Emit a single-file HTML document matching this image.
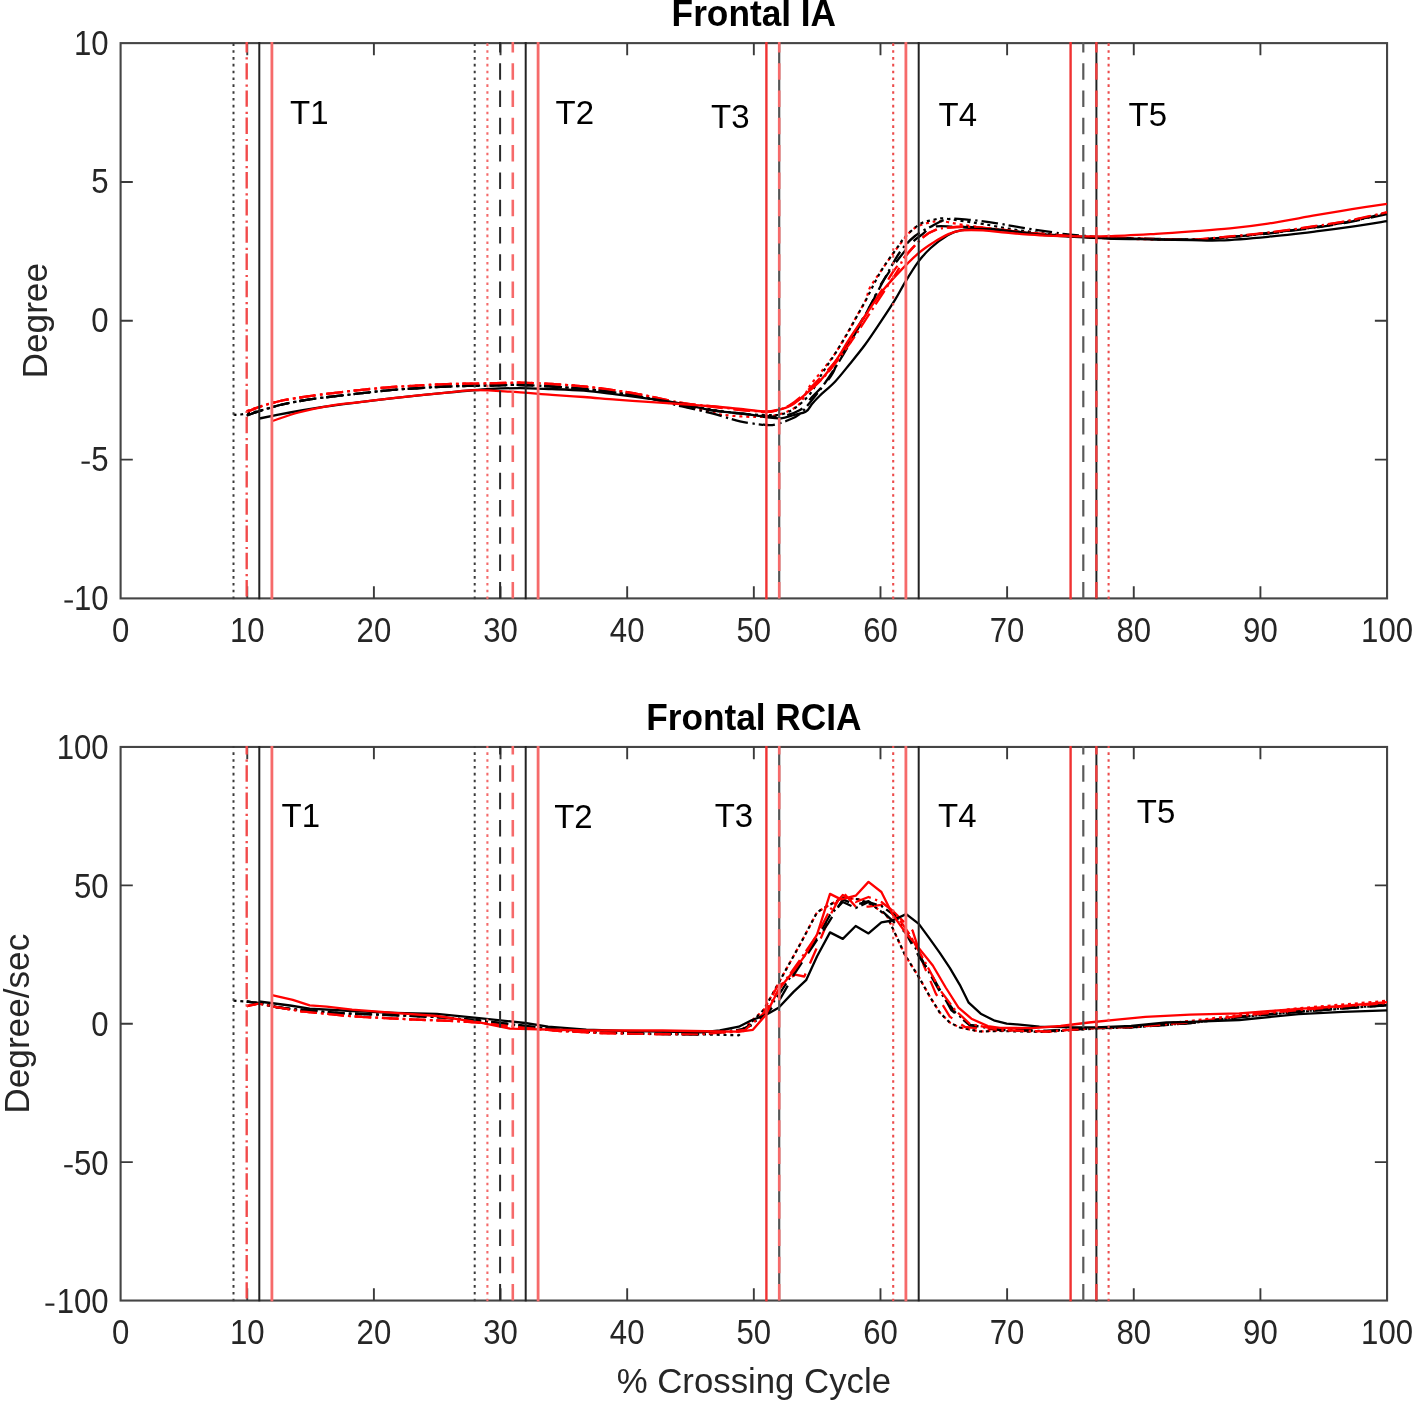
<!DOCTYPE html><html><head><meta charset="utf-8"><style>html,body{margin:0;padding:0;background:#fff;width:1416px;height:1404px;overflow:hidden}svg{display:block;filter:blur(0.45px)} .f{font-family:"Liberation Sans",sans-serif}</style></head><body><svg width="1416" height="1404" viewBox="0 0 1416 1404" style="position:absolute;left:0;top:0">
<rect width="100%" height="100%" fill="#fff"/>
<g stroke="#454545" stroke-width="2.1" fill="none">
<rect x="120.60" y="43.12" width="1266.46" height="555.28"/>
<path d="M247.25 598.40V586.20M247.25 43.12V55.32M373.89 598.40V586.20M373.89 43.12V55.32M500.54 598.40V586.20M500.54 43.12V55.32M627.18 598.40V586.20M627.18 43.12V55.32M753.83 598.40V586.20M753.83 43.12V55.32M880.48 598.40V586.20M880.48 43.12V55.32M1007.12 598.40V586.20M1007.12 43.12V55.32M1133.77 598.40V586.20M1133.77 43.12V55.32M1260.41 598.40V586.20M1260.41 43.12V55.32M120.60 181.94H132.80M1387.06 181.94H1374.86M120.60 320.76H132.80M1387.06 320.76H1374.86M120.60 459.58H132.80M1387.06 459.58H1374.86" stroke="#3a3a3a" stroke-width="1.9"/>
</g>
<g class="f" font-size="34.6" fill="#262626">
<text transform="translate(120.60 642.00) scale(0.9 1)" text-anchor="middle">0</text>
<text transform="translate(247.25 642.00) scale(0.9 1)" text-anchor="middle">10</text>
<text transform="translate(373.89 642.00) scale(0.9 1)" text-anchor="middle">20</text>
<text transform="translate(500.54 642.00) scale(0.9 1)" text-anchor="middle">30</text>
<text transform="translate(627.18 642.00) scale(0.9 1)" text-anchor="middle">40</text>
<text transform="translate(753.83 642.00) scale(0.9 1)" text-anchor="middle">50</text>
<text transform="translate(880.48 642.00) scale(0.9 1)" text-anchor="middle">60</text>
<text transform="translate(1007.12 642.00) scale(0.9 1)" text-anchor="middle">70</text>
<text transform="translate(1133.77 642.00) scale(0.9 1)" text-anchor="middle">80</text>
<text transform="translate(1260.41 642.00) scale(0.9 1)" text-anchor="middle">90</text>
<text transform="translate(1387.06 642.00) scale(0.9 1)" text-anchor="middle">100</text>
<text transform="translate(108.60 54.52) scale(0.9 1)" text-anchor="end">10</text>
<text transform="translate(108.60 193.34) scale(0.9 1)" text-anchor="end">5</text>
<text transform="translate(108.60 332.16) scale(0.9 1)" text-anchor="end">0</text>
<text transform="translate(108.60 470.98) scale(0.9 1)" text-anchor="end">5</text>
<rect x="81.50" y="461.58" width="8.30" height="2.2"/>
<text transform="translate(108.60 609.80) scale(0.9 1)" text-anchor="end">10</text>
<rect x="64.40" y="600.40" width="8.50" height="2.2"/>
</g>
<g stroke="#454545" stroke-width="2.1" fill="none">
<rect x="120.60" y="746.95" width="1266.46" height="553.59"/>
<path d="M247.25 1300.54V1288.34M247.25 746.95V759.15M373.89 1300.54V1288.34M373.89 746.95V759.15M500.54 1300.54V1288.34M500.54 746.95V759.15M627.18 1300.54V1288.34M627.18 746.95V759.15M753.83 1300.54V1288.34M753.83 746.95V759.15M880.48 1300.54V1288.34M880.48 746.95V759.15M1007.12 1300.54V1288.34M1007.12 746.95V759.15M1133.77 1300.54V1288.34M1133.77 746.95V759.15M1260.41 1300.54V1288.34M1260.41 746.95V759.15M120.60 885.35H132.80M1387.06 885.35H1374.86M120.60 1023.75H132.80M1387.06 1023.75H1374.86M120.60 1162.14H132.80M1387.06 1162.14H1374.86" stroke="#3a3a3a" stroke-width="1.9"/>
</g>
<g class="f" font-size="34.6" fill="#262626">
<text transform="translate(120.60 1344.14) scale(0.9 1)" text-anchor="middle">0</text>
<text transform="translate(247.25 1344.14) scale(0.9 1)" text-anchor="middle">10</text>
<text transform="translate(373.89 1344.14) scale(0.9 1)" text-anchor="middle">20</text>
<text transform="translate(500.54 1344.14) scale(0.9 1)" text-anchor="middle">30</text>
<text transform="translate(627.18 1344.14) scale(0.9 1)" text-anchor="middle">40</text>
<text transform="translate(753.83 1344.14) scale(0.9 1)" text-anchor="middle">50</text>
<text transform="translate(880.48 1344.14) scale(0.9 1)" text-anchor="middle">60</text>
<text transform="translate(1007.12 1344.14) scale(0.9 1)" text-anchor="middle">70</text>
<text transform="translate(1133.77 1344.14) scale(0.9 1)" text-anchor="middle">80</text>
<text transform="translate(1260.41 1344.14) scale(0.9 1)" text-anchor="middle">90</text>
<text transform="translate(1387.06 1344.14) scale(0.9 1)" text-anchor="middle">100</text>
<text transform="translate(108.60 759.35) scale(0.9 1)" text-anchor="end">100</text>
<text transform="translate(108.60 897.75) scale(0.9 1)" text-anchor="end">50</text>
<text transform="translate(108.60 1036.14) scale(0.9 1)" text-anchor="end">0</text>
<text transform="translate(108.60 1174.54) scale(0.9 1)" text-anchor="end">50</text>
<rect x="64.20" y="1165.14" width="8.50" height="2.2"/>
<text transform="translate(108.60 1312.94) scale(0.9 1)" text-anchor="end">100</text>
<rect x="45.40" y="1303.54" width="9.00" height="2.2"/>
</g>
<defs><clipPath id="ct"><rect x="119.6" y="42.0" width="1268.46" height="557.5"/></clipPath><clipPath id="cb"><rect x="119.6" y="745.85" width="1268.46" height="555.8"/></clipPath></defs>
<g clip-path="url(#ct)">
<path d="M246.7 411.0C249.3 410.1 257.1 407.5 262.6 405.8C268.2 404.1 273.8 402.4 280.0 401.0C286.2 399.6 293.3 398.6 300.0 397.5C306.7 396.4 309.7 396.0 320.0 394.7C330.3 393.4 350.7 391.0 362.0 389.8C373.3 388.6 379.5 388.1 388.0 387.4C396.5 386.7 403.2 386.4 413.0 385.8C422.8 385.2 434.2 384.5 447.0 384.1C459.8 383.7 477.8 383.6 490.0 383.4C502.2 383.2 509.7 382.6 520.0 382.7C530.3 382.8 541.3 383.4 552.0 384.0C562.7 384.6 573.3 385.4 584.0 386.5C594.7 387.6 605.3 388.9 616.0 390.5C626.7 392.1 637.0 393.4 648.0 396.0C659.0 398.6 671.0 403.3 682.0 406.0C693.0 408.7 707.0 410.5 714.0 412.0C721.0 413.5 717.0 414.2 724.0 415.0C731.0 415.8 747.2 417.0 756.0 417.0C764.8 417.0 770.0 416.9 777.0 415.0C784.0 413.1 792.5 410.3 798.0 405.4C803.5 400.5 805.9 391.6 810.0 385.7C814.1 379.8 818.8 375.0 822.9 369.7C827.0 364.4 831.1 359.4 834.9 353.8C838.7 348.2 842.3 341.8 845.8 335.8C849.3 329.8 852.5 323.9 855.8 317.9C859.1 311.9 863.4 304.9 865.8 299.9C868.2 294.8 867.0 293.2 870.0 287.6C873.0 282.0 879.4 273.2 884.1 266.4C888.8 259.6 893.5 252.7 898.2 246.6C902.9 240.5 907.7 233.6 912.4 229.7C917.1 225.8 921.8 224.7 926.5 223.3C931.2 221.9 934.7 221.0 940.6 221.2C946.5 221.4 953.6 223.5 961.8 224.7C970.0 225.9 980.3 227.3 990.0 228.5C999.7 229.7 1006.7 230.8 1020.0 232.0C1033.3 233.2 1055.3 234.9 1070.0 236.0C1084.7 237.1 1093.7 237.7 1108.0 238.3C1122.3 238.9 1142.0 239.1 1156.0 239.4C1170.0 239.7 1181.3 240.1 1192.0 239.9C1202.7 239.7 1207.3 239.2 1220.0 238.0C1232.7 236.8 1252.0 234.8 1268.0 233.0C1284.0 231.2 1302.0 229.0 1316.0 227.0C1330.0 225.0 1340.2 223.3 1352.0 221.0C1363.8 218.7 1381.2 214.3 1387.0 213.0" fill="none" stroke="#f00" stroke-width="2.2" stroke-dasharray="3 3.83" stroke-linejoin="round"/>
<path d="M233.6 414.6C234.8 414.6 235.9 415.3 240.7 414.5C245.5 413.7 256.1 411.6 262.6 410.0C269.2 408.4 273.8 406.5 280.0 405.0C286.2 403.5 293.3 402.2 300.0 401.0C306.7 399.8 309.7 399.3 320.0 398.0C330.3 396.7 350.7 394.5 362.0 393.2C373.3 391.9 379.5 391.1 388.0 390.3C396.5 389.5 403.2 389.1 413.0 388.5C422.8 387.9 434.2 387.0 447.0 386.5C459.8 386.0 477.8 385.8 490.0 385.5C502.2 385.2 509.7 384.8 520.0 385.0C530.3 385.2 541.3 385.8 552.0 386.5C562.7 387.2 573.3 388.0 584.0 389.0C594.7 390.0 605.3 391.0 616.0 392.5C626.7 394.0 637.0 396.1 648.0 398.0C659.0 399.9 671.0 402.0 682.0 404.0C693.0 406.0 703.5 408.3 714.0 410.0C724.5 411.7 736.3 413.2 745.0 414.0C753.7 414.8 760.0 414.9 766.0 415.0C772.0 415.1 776.2 415.7 781.0 414.5C785.8 413.3 790.2 411.4 795.0 408.0C799.8 404.6 805.3 400.0 810.0 394.0C814.7 388.0 818.8 378.7 823.0 372.0C827.2 365.3 831.2 359.8 835.0 353.8C838.8 347.8 842.5 341.8 846.0 335.8C849.5 329.8 852.7 323.9 856.0 317.9C859.3 311.9 862.8 305.9 866.0 299.9C869.2 293.9 872.0 287.6 875.0 282.0C878.0 276.4 880.2 272.3 884.0 266.4C887.8 260.5 894.5 251.5 898.0 246.6C901.5 241.7 901.6 240.5 905.3 236.7C909.0 232.9 915.3 226.8 920.0 224.0C924.7 221.2 929.7 220.7 933.6 219.8C937.5 218.9 938.7 218.2 943.4 218.4C948.1 218.6 955.4 220.1 962.0 221.0C968.6 221.9 974.8 222.7 983.0 224.0C991.2 225.3 1001.5 227.5 1011.0 229.0C1020.5 230.5 1030.2 231.8 1040.0 233.0C1049.8 234.2 1058.7 235.2 1070.0 236.0C1081.3 236.8 1093.7 237.5 1108.0 238.0C1122.3 238.5 1142.0 238.9 1156.0 239.2C1170.0 239.5 1181.3 240.0 1192.0 239.8C1202.7 239.6 1207.3 239.1 1220.0 238.0C1232.7 236.9 1252.0 235.0 1268.0 233.2C1284.0 231.4 1302.0 229.0 1316.0 227.0C1330.0 225.0 1340.2 223.3 1352.0 221.0C1363.8 218.7 1381.2 214.3 1387.0 213.0" fill="none" stroke="#000" stroke-width="2.2" stroke-dasharray="3 3.83" stroke-linejoin="round"/>
<path d="M246.7 411.8C249.3 410.8 257.1 407.6 262.6 405.8C268.2 404.0 273.8 402.4 280.0 401.0C286.2 399.6 293.3 398.6 300.0 397.5C306.7 396.4 309.7 396.0 320.0 394.7C330.3 393.4 350.7 391.0 362.0 389.8C373.3 388.6 379.5 388.1 388.0 387.4C396.5 386.7 403.2 386.4 413.0 385.8C422.8 385.2 434.2 384.5 447.0 384.1C459.8 383.7 477.8 383.6 490.0 383.4C502.2 383.2 509.7 382.6 520.0 382.7C530.3 382.8 541.3 383.4 552.0 384.0C562.7 384.6 573.3 385.4 584.0 386.5C594.7 387.6 605.3 388.9 616.0 390.5C626.7 392.1 637.0 393.9 648.0 396.0C659.0 398.1 671.0 401.2 682.0 403.0C693.0 404.8 703.5 405.8 714.0 407.0C724.5 408.2 736.3 409.7 745.0 410.5C753.7 411.3 760.7 412.0 766.0 412.0C771.3 412.0 773.0 411.7 777.0 410.5C781.0 409.3 785.3 407.9 790.0 405.0C794.7 402.1 800.0 397.5 805.0 393.0C810.0 388.5 815.0 383.2 820.0 378.0C825.0 372.8 830.0 368.3 835.0 362.0C840.0 355.7 845.0 347.7 850.0 340.0C855.0 332.3 860.0 323.8 865.0 316.0C870.0 308.2 875.3 300.3 880.0 293.0C884.7 285.7 888.8 278.1 893.0 272.0C897.2 265.9 900.2 262.4 905.3 256.5C910.4 250.6 918.5 241.2 923.7 236.7C928.9 232.2 932.2 231.2 936.4 229.7C940.6 228.2 943.7 228.0 949.1 227.5C954.5 227.0 960.9 226.6 968.9 226.8C976.9 227.1 987.7 228.1 997.1 229.0C1006.5 229.9 1013.3 231.3 1025.4 232.5C1037.6 233.7 1056.2 235.1 1070.0 236.0C1083.8 236.9 1093.7 237.5 1108.0 238.0C1122.3 238.5 1142.0 238.7 1156.0 239.0C1170.0 239.3 1181.3 239.8 1192.0 239.6C1202.7 239.3 1207.3 238.6 1220.0 237.5C1232.7 236.4 1252.0 234.7 1268.0 232.8C1284.0 230.9 1302.0 228.3 1316.0 226.2C1330.0 224.1 1340.2 222.5 1352.0 220.2C1363.8 217.9 1381.2 213.8 1387.0 212.5" fill="none" stroke="#f00" stroke-width="2.3" stroke-dasharray="16.5 10.8" stroke-linejoin="round"/>
<path d="M246.7 415.5C249.3 414.6 257.1 411.8 262.6 410.0C268.2 408.2 273.8 406.5 280.0 405.0C286.2 403.5 293.3 402.2 300.0 401.0C306.7 399.8 309.7 399.3 320.0 398.0C330.3 396.7 350.7 394.5 362.0 393.2C373.3 391.9 379.5 391.1 388.0 390.3C396.5 389.5 403.2 389.1 413.0 388.5C422.8 387.9 434.2 387.0 447.0 386.5C459.8 386.0 477.8 385.8 490.0 385.5C502.2 385.2 509.7 384.8 520.0 385.0C530.3 385.2 541.3 385.8 552.0 386.5C562.7 387.2 573.3 388.0 584.0 389.0C594.7 390.0 605.3 391.0 616.0 392.5C626.7 394.0 637.0 395.9 648.0 398.0C659.0 400.1 671.0 402.9 682.0 405.0C693.0 407.1 703.5 409.0 714.0 410.5C724.5 412.0 736.3 413.1 745.0 414.0C753.7 414.9 760.0 415.6 766.0 416.0C772.0 416.4 775.3 417.5 781.0 416.5C786.7 415.5 794.8 413.2 800.0 410.0C805.2 406.8 807.8 401.4 812.0 397.0C816.2 392.6 821.5 387.8 825.0 383.7C828.5 379.6 830.5 377.2 833.0 372.7C835.5 368.2 836.5 363.3 840.0 356.8C843.5 350.3 849.7 341.1 854.0 333.8C858.3 326.5 862.7 318.7 866.0 312.9C869.3 307.1 872.0 303.0 874.0 299.0C876.0 295.0 874.7 294.7 878.0 289.0C881.3 283.3 888.5 272.5 894.0 265.0C899.5 257.5 906.5 248.8 911.0 243.8C915.5 238.9 917.2 238.1 921.0 235.3C924.8 232.5 928.3 228.2 934.0 226.8C939.7 225.4 946.8 226.6 955.0 226.8C963.2 227.0 973.7 227.3 983.0 228.0C992.3 228.7 1001.5 230.0 1011.0 231.0C1020.5 232.0 1030.2 233.2 1040.0 234.0C1049.8 234.8 1058.7 235.3 1070.0 236.0C1081.3 236.7 1093.7 237.5 1108.0 238.0C1122.3 238.5 1142.0 238.9 1156.0 239.2C1170.0 239.5 1181.3 240.0 1192.0 239.8C1202.7 239.6 1207.3 239.1 1220.0 238.0C1232.7 236.9 1252.0 235.2 1268.0 233.5C1284.0 231.8 1302.0 229.5 1316.0 227.5C1330.0 225.5 1340.2 223.8 1352.0 221.5C1363.8 219.2 1381.2 215.2 1387.0 214.0" fill="none" stroke="#000" stroke-width="2.3" stroke-dasharray="16.5 10.8" stroke-linejoin="round"/>
<path d="M246.7 415.5C249.3 414.6 257.1 411.8 262.6 410.0C268.2 408.2 273.8 406.5 280.0 405.0C286.2 403.5 293.3 402.2 300.0 401.0C306.7 399.8 309.7 399.3 320.0 398.0C330.3 396.7 350.7 394.5 362.0 393.2C373.3 391.9 379.5 391.1 388.0 390.3C396.5 389.5 403.2 389.1 413.0 388.5C422.8 387.9 434.2 387.0 447.0 386.5C459.8 386.0 477.8 385.8 490.0 385.5C502.2 385.2 509.7 384.8 520.0 385.0C530.3 385.2 541.3 385.8 552.0 386.5C562.7 387.2 573.3 388.0 584.0 389.0C594.7 390.0 605.3 391.0 616.0 392.5C626.7 394.0 637.0 395.7 648.0 398.0C659.0 400.3 671.0 403.9 682.0 406.5C693.0 409.1 704.3 411.4 714.0 413.9C723.7 416.4 731.2 419.4 740.0 421.3C748.8 423.2 760.3 424.6 766.5 425.0C772.7 425.4 773.4 424.8 777.0 424.0C780.6 423.2 784.2 422.0 788.0 420.3C791.8 418.6 796.0 417.3 800.0 413.9C804.0 410.5 807.8 405.1 812.0 400.0C816.2 394.9 820.3 389.7 825.0 383.0C829.7 376.3 835.0 368.2 840.0 360.0C845.0 351.8 850.0 343.0 855.0 334.0C860.0 325.0 865.0 315.3 870.0 306.0C875.0 296.7 880.0 287.0 885.0 278.0C890.0 269.0 895.0 259.0 900.0 252.0C905.0 245.0 909.7 240.3 915.0 236.0C920.3 231.7 926.5 228.9 932.0 226.1C937.5 223.3 941.5 220.1 947.7 219.1C953.9 218.1 960.8 219.1 969.0 219.8C977.2 220.5 987.7 221.9 997.0 223.3C1006.3 224.7 1015.5 226.7 1025.0 228.2C1034.5 229.7 1046.5 231.4 1054.0 232.5C1061.5 233.6 1061.0 233.8 1070.0 234.6C1079.0 235.4 1093.7 236.8 1108.0 237.5C1122.3 238.2 1142.0 238.5 1156.0 238.8C1170.0 239.1 1181.3 239.6 1192.0 239.5C1202.7 239.4 1207.3 239.1 1220.0 238.0C1232.7 236.9 1252.0 234.8 1268.0 233.0C1284.0 231.2 1302.0 229.0 1316.0 227.0C1330.0 225.0 1340.2 223.3 1352.0 221.0C1363.8 218.7 1381.2 214.3 1387.0 213.0" fill="none" stroke="#000" stroke-width="2.3" stroke-dasharray="16.5 4.6 2.3 3.9" stroke-linejoin="round"/>
<path d="M246.7 411.8C249.3 410.8 257.1 407.6 262.6 405.8C268.2 404.0 273.8 402.4 280.0 401.0C286.2 399.6 293.3 398.6 300.0 397.5C306.7 396.4 309.7 396.0 320.0 394.7C330.3 393.4 350.7 391.0 362.0 389.8C373.3 388.6 379.5 388.1 388.0 387.4C396.5 386.7 403.2 386.4 413.0 385.8C422.8 385.2 434.2 384.5 447.0 384.1C459.8 383.7 477.8 383.6 490.0 383.4C502.2 383.2 509.7 382.6 520.0 382.7C530.3 382.8 541.3 383.4 552.0 384.0C562.7 384.6 573.3 385.4 584.0 386.5C594.7 387.6 605.3 388.9 616.0 390.5C626.7 392.1 637.0 393.9 648.0 396.0C659.0 398.1 671.0 401.1 682.0 402.8C693.0 404.6 703.5 405.3 714.0 406.5C724.5 407.7 736.3 409.3 745.0 410.2C753.7 411.1 760.7 411.8 766.0 411.8C771.3 411.8 773.3 411.1 777.0 410.2C780.7 409.3 784.2 408.4 788.0 406.5C791.8 404.6 796.3 401.9 800.0 399.1C803.7 396.4 805.8 393.9 810.0 390.0C814.2 386.1 820.0 381.5 825.0 376.0C830.0 370.5 835.0 363.7 840.0 357.0C845.0 350.3 850.0 343.3 855.0 336.0C860.0 328.7 865.0 320.7 870.0 313.0C875.0 305.3 880.3 297.2 885.0 290.0C889.7 282.8 894.7 275.6 898.0 270.0C901.3 264.4 900.7 262.1 905.0 256.5C909.3 250.9 918.8 241.2 924.0 236.7C929.2 232.2 931.8 231.2 936.0 229.7C940.2 228.2 943.5 228.0 949.0 227.5C954.5 227.0 961.0 226.6 969.0 226.8C977.0 227.1 987.7 228.1 997.0 229.0C1006.3 229.9 1012.8 231.3 1025.0 232.5C1037.2 233.7 1056.2 235.1 1070.0 236.0C1083.8 236.9 1093.7 237.5 1108.0 238.0C1122.3 238.5 1142.0 238.9 1156.0 239.2C1170.0 239.5 1181.3 240.1 1192.0 239.8C1202.7 239.5 1207.3 238.6 1220.0 237.4C1232.7 236.2 1252.0 234.5 1268.0 232.6C1284.0 230.7 1302.0 228.1 1316.0 226.0C1330.0 223.9 1340.2 222.3 1352.0 220.0C1363.8 217.7 1381.2 213.5 1387.0 212.2" fill="none" stroke="#f00" stroke-width="2.3" stroke-dasharray="16.5 4.6 2.3 3.9" stroke-linejoin="round"/>
<path d="M259.4 418.5C264.5 417.5 279.9 414.4 290.0 412.5C300.1 410.6 308.0 409.2 320.0 407.4C332.0 405.6 347.8 403.6 362.0 401.8C376.2 400.0 390.8 398.3 405.0 396.8C419.2 395.3 432.8 393.9 447.0 392.6C461.2 391.3 477.8 389.8 490.0 389.0C502.2 388.2 509.7 388.1 520.0 388.1C530.3 388.1 541.3 388.7 552.0 389.1C562.7 389.5 573.3 389.8 584.0 390.7C594.7 391.6 605.3 393.1 616.0 394.4C626.7 395.7 637.3 397.1 648.0 398.6C658.7 400.1 669.0 401.5 680.0 403.5C691.0 405.5 703.2 409.0 714.0 410.7C724.8 412.4 736.3 412.8 745.0 413.9C753.7 415.0 760.0 416.4 766.0 417.1C772.0 417.8 776.3 418.7 781.0 418.3C785.7 417.9 789.8 416.1 794.0 415.0C798.2 413.9 803.0 413.3 806.0 411.5C809.0 409.7 809.7 406.7 812.0 404.0C814.3 401.3 816.2 399.2 820.0 395.5C823.8 391.8 830.0 387.0 835.0 381.7C840.0 376.4 845.0 369.8 850.0 363.7C855.0 357.6 860.0 351.6 865.0 344.8C870.0 338.0 875.0 330.4 880.0 322.9C885.0 315.4 890.8 306.7 895.0 299.9C899.2 293.1 901.5 288.2 905.3 281.9C909.1 275.6 913.8 267.8 918.0 262.1C922.2 256.5 925.8 252.5 930.7 248.0C935.7 243.5 942.8 238.2 947.7 235.3C952.7 232.4 954.5 231.5 960.4 230.4C966.3 229.3 974.6 228.9 983.0 229.0C991.4 229.1 1001.5 230.2 1011.0 231.1C1020.5 232.0 1030.2 233.7 1040.0 234.6C1049.8 235.5 1058.7 236.0 1070.0 236.7C1081.3 237.3 1093.7 238.0 1108.0 238.5C1122.3 239.0 1142.0 239.2 1156.0 239.5C1170.0 239.8 1181.3 239.8 1192.0 240.0C1202.7 240.2 1207.3 240.9 1220.0 240.4C1232.7 239.9 1252.0 238.3 1268.0 236.8C1284.0 235.3 1302.0 233.1 1316.0 231.4C1330.0 229.7 1340.2 228.3 1352.0 226.6C1363.8 224.9 1381.2 222.1 1387.0 221.2" fill="none" stroke="#000" stroke-width="2.3" stroke-linejoin="round"/>
<path d="M272.1 421.0C276.5 419.6 289.3 415.0 298.6 412.5C307.9 410.0 317.4 407.9 328.0 406.1C338.6 404.3 349.2 403.4 362.0 401.8C374.8 400.2 390.8 398.3 405.0 396.8C419.2 395.3 435.3 393.7 447.0 392.6C458.7 391.5 464.5 390.4 475.0 390.2C485.5 390.0 497.2 390.9 510.0 391.7C522.8 392.5 539.7 394.0 552.0 394.9C564.3 395.8 573.3 396.2 584.0 397.0C594.7 397.8 605.3 398.9 616.0 399.7C626.7 400.5 637.3 401.1 648.0 401.8C658.7 402.5 669.0 403.2 680.0 404.0C691.0 404.8 703.2 405.6 714.0 406.5C724.8 407.4 736.5 408.7 745.0 409.5C753.5 410.3 759.5 411.4 765.0 411.5C770.5 411.6 773.7 410.8 778.0 409.8C782.3 408.8 786.3 408.3 791.0 405.6C795.7 402.9 801.2 397.8 806.0 393.7C810.8 389.6 815.2 386.3 820.0 381.0C824.8 375.7 830.0 369.2 835.0 362.0C840.0 354.8 845.0 345.7 850.0 338.0C855.0 330.3 860.0 323.3 865.0 316.0C870.0 308.7 874.5 301.1 880.0 294.0C885.5 286.9 891.7 280.1 898.0 273.4C904.3 266.7 912.1 258.9 918.0 253.7C923.9 248.5 928.4 245.7 933.6 242.4C938.8 239.1 944.3 235.9 949.0 233.9C953.7 231.9 956.3 231.0 962.0 230.4C967.7 229.8 974.8 229.9 983.0 230.4C991.2 230.9 1001.5 232.4 1011.0 233.2C1020.5 234.0 1030.2 234.8 1040.0 235.3C1049.8 235.8 1058.7 236.0 1070.0 236.2C1081.3 236.3 1093.7 236.6 1108.0 236.2C1122.3 235.8 1142.0 234.6 1156.0 233.8C1170.0 233.0 1179.7 232.3 1192.0 231.4C1204.3 230.5 1217.3 229.7 1230.0 228.4C1242.7 227.1 1253.7 225.8 1268.0 223.6C1282.3 221.4 1302.0 217.6 1316.0 215.2C1330.0 212.8 1340.2 211.1 1352.0 209.2C1363.8 207.3 1381.2 204.7 1387.0 203.8" fill="none" stroke="#f00" stroke-width="2.3" stroke-linejoin="round"/>
<path d="M233.50 599.45V42.07" stroke="#3a3a3a" stroke-width="2.0" stroke-dasharray="2.6 4.23" stroke-dashoffset="-0.25"/>
<path d="M246.70 599.45V42.07" stroke="#f24a4a" stroke-width="2.4" stroke-dasharray="16.4 3.7 2.2 4.9" stroke-dashoffset="-3.05"/>
<path d="M259.30 599.45V42.07" stroke="#222" stroke-width="2.0"/>
<path d="M271.90 599.45V42.07" stroke="#f66a6a" stroke-width="2.8"/>
<path d="M474.70 599.45V42.07" stroke="#3a3a3a" stroke-width="2.0" stroke-dasharray="2.6 4.23" stroke-dashoffset="-0.25"/>
<path d="M487.40 599.45V42.07" stroke="#f46a6a" stroke-width="2.1" stroke-dasharray="2.6 4.23" stroke-dashoffset="-0.25"/>
<path d="M500.10 599.45V42.07" stroke="#2a2a2a" stroke-width="2.0" stroke-dasharray="16.5 10.8" stroke-dashoffset="-1.05"/>
<path d="M512.80 599.45V42.07" stroke="#f66a6a" stroke-width="2.6" stroke-dasharray="16.5 10.8" stroke-dashoffset="-1.05"/>
<path d="M525.70 599.45V42.07" stroke="#222" stroke-width="2.0"/>
<path d="M538.10 599.45V42.07" stroke="#f66a6a" stroke-width="2.8"/>
<path d="M766.40 599.45V42.07" stroke="#f03232" stroke-width="2.4"/>
<path d="M779.20 599.45V42.07" stroke="#555" stroke-width="2.2"/>
<path d="M779.20 599.45V42.07" stroke="#f66a6a" stroke-width="2.6" stroke-dasharray="16.5 10.8" stroke-dashoffset="-1.05"/>
<path d="M893.20 599.45V42.07" stroke="#ec4c4c" stroke-width="2.1" stroke-dasharray="2.6 4.23" stroke-dashoffset="-0.25"/>
<path d="M905.90 599.45V42.07" stroke="#f66a6a" stroke-width="2.8"/>
<path d="M918.70 599.45V42.07" stroke="#222" stroke-width="2.0"/>
<path d="M1070.60 599.45V42.07" stroke="#f03232" stroke-width="2.4"/>
<path d="M1083.30 599.45V42.07" stroke="#5a5a5a" stroke-width="2.2" stroke-dasharray="16.5 10.8" stroke-dashoffset="-1.05"/>
<path d="M1096.40 599.45V42.07" stroke="#222" stroke-width="2.0"/>
<path d="M1096.40 599.45V42.07" stroke="#f03c3c" stroke-width="2.4" stroke-dasharray="16.5 10.8" stroke-dashoffset="-1.05"/>
<path d="M1108.60 599.45V42.07" stroke="#ec4c4c" stroke-width="2.1" stroke-dasharray="2.6 4.23" stroke-dashoffset="-0.25"/>
</g>
<g clip-path="url(#cb)">
<path d="M246.7 1006.2L258.9 1003.5L275.8 1007.0L301.3 1011.3L343.6 1015.5L362.0 1016.9L390.0 1018.3L417.0 1019.7L450.0 1020.8L479.2 1022.6L525.0 1027.9L560.0 1031.0L600.0 1033.0L650.0 1034.0L700.0 1034.2L740.0 1031.6L763.9 1009.6L782.2 976.5L800.6 943.4L817.1 912.2L826.3 906.7L842.8 897.5L859.4 899.4L872.2 904.9L886.9 915.9L893.0 928.9L904.9 954.8L919.8 978.7L929.8 996.6L939.8 1012.6L949.8 1022.6L959.8 1027.5L979.7 1031.5L1000.0 1030.5L1046.5 1031.7L1095.9 1028.0L1131.2 1026.5L1190.0 1021.0L1239.3 1015.0L1298.6 1008.2L1387.0 1000.8" fill="none" stroke="#f00" stroke-width="2.2" stroke-dasharray="3 3.83" stroke-linejoin="round"/>
<path d="M233.5 1000.7L246.7 1001.5L258.9 1003.2L275.8 1007.0L292.8 1009.2L309.7 1010.4L326.7 1012.1L345.0 1013.4L390.0 1015.0L436.9 1017.0L479.2 1020.5L525.0 1026.0L560.0 1030.0L600.0 1032.5L650.0 1033.8L700.0 1034.3L738.8 1035.3L763.9 1009.6L782.2 976.5L800.6 943.4L817.1 912.2L826.3 906.7L842.8 897.5L859.4 899.4L872.2 904.9L886.9 915.9L893.0 928.9L904.9 954.8L919.8 978.7L929.8 996.6L939.8 1012.6L949.8 1022.6L959.8 1027.5L979.7 1031.5L1000.0 1031.0L1046.5 1032.0L1095.9 1028.5L1131.2 1027.5L1190.0 1023.2L1239.3 1017.1L1298.6 1011.9L1387.0 1005.2" fill="none" stroke="#000" stroke-width="2.2" stroke-dasharray="3 3.83" stroke-linejoin="round"/>
<path d="M246.7 1006.2L258.9 1003.5L275.8 1007.0L301.3 1011.3L343.6 1015.5L362.0 1016.9L390.0 1018.3L417.0 1019.7L450.0 1020.8L479.2 1022.6L525.0 1027.9L560.0 1031.0L600.0 1033.0L650.0 1034.0L700.0 1034.2L740.0 1031.0L760.0 1020.0L776.7 987.5L795.1 974.7L804.3 976.5L817.1 947.1L831.8 912.2L842.8 892.0L855.7 906.7L868.5 906.7L881.4 904.9L894.2 912.2L912.6 930.6L923.6 965.0L935.8 993.6L949.8 1016.6L965.0 1027.0L1000.0 1030.0L1046.5 1031.5L1095.9 1028.0L1131.2 1027.0L1190.0 1022.8L1239.3 1016.5L1298.6 1011.0L1387.0 1004.0" fill="none" stroke="#f00" stroke-width="2.3" stroke-dasharray="16.5 10.8" stroke-linejoin="round"/>
<path d="M246.7 1001.5L258.9 1003.2L275.8 1007.0L292.8 1009.2L309.7 1010.4L326.7 1012.1L345.0 1013.4L390.0 1015.0L436.9 1017.0L479.2 1020.5L525.0 1026.0L560.0 1030.0L600.0 1032.5L650.0 1033.8L700.0 1034.3L740.0 1030.0L758.4 1022.4L780.4 998.5L795.1 972.8L813.4 945.3L828.1 923.3L842.8 899.4L855.7 904.9L868.5 901.2L883.2 912.2L905.3 932.4L918.1 955.0L932.8 977.0L951.2 1010.0L969.5 1025.0L1000.0 1029.0L1046.5 1031.0L1095.9 1028.1L1131.2 1027.4L1190.0 1023.2L1239.3 1017.1L1298.6 1011.9L1387.0 1005.2" fill="none" stroke="#000" stroke-width="2.3" stroke-dasharray="16.5 10.8" stroke-linejoin="round"/>
<path d="M246.7 1001.5L258.9 1003.2L275.8 1007.0L292.8 1009.2L309.7 1010.4L326.7 1012.1L345.0 1013.4L390.0 1015.0L436.9 1017.0L479.2 1020.5L525.0 1026.0L560.0 1030.0L600.0 1032.5L650.0 1033.8L700.0 1034.3L745.0 1029.0L765.0 1014.0L782.0 990.0L800.0 962.0L817.0 938.0L830.0 915.0L842.8 902.0L855.7 908.0L868.5 902.0L881.4 906.0L894.2 915.0L910.0 938.0L925.0 965.0L940.0 992.0L955.0 1012.0L970.0 1025.0L1000.0 1030.0L1046.5 1031.0L1095.9 1028.0L1131.2 1027.2L1190.0 1023.0L1239.3 1017.0L1298.6 1011.5L1387.0 1005.0" fill="none" stroke="#000" stroke-width="2.3" stroke-dasharray="16.5 4.6 2.3 3.9" stroke-linejoin="round"/>
<path d="M246.7 1006.2L258.9 1003.5L275.8 1007.0L301.3 1011.3L343.6 1015.5L362.0 1016.9L390.0 1018.3L417.0 1019.7L450.0 1020.8L479.2 1022.6L525.0 1027.9L560.0 1031.0L600.0 1033.0L650.0 1034.0L700.0 1034.2L745.0 1030.0L765.0 1012.0L782.0 985.0L800.0 960.0L817.0 935.0L830.0 910.0L842.8 895.0L855.7 902.0L868.5 897.0L881.4 902.0L894.2 912.0L910.0 935.0L925.0 962.0L940.0 990.0L955.0 1010.0L970.0 1024.0L1000.0 1030.0L1046.5 1031.5L1095.9 1028.0L1131.2 1027.0L1190.0 1022.5L1239.3 1016.0L1298.6 1010.0L1387.0 1003.0" fill="none" stroke="#f00" stroke-width="2.3" stroke-dasharray="16.5 4.6 2.3 3.9" stroke-linejoin="round"/>
<path d="M258.9 1001.5L290.0 1005.5L309.7 1008.6L352.0 1011.0L394.5 1012.8L436.9 1013.9L479.2 1018.1L500.4 1020.3L525.0 1023.0L548.1 1026.7L586.3 1029.6L624.0 1030.8L662.6 1031.5L700.7 1032.4L719.8 1030.5L738.8 1026.7L752.0 1020.0L765.7 1015.1L778.6 1007.7L793.3 992.1L806.1 980.2L817.1 956.3L830.0 932.4L842.8 938.9L855.7 926.0L868.5 933.4L881.4 922.3L892.4 920.5L906.2 914.1L918.8 923.9L929.8 938.9L939.8 952.9L949.8 967.9L959.8 984.8L968.7 1002.7L980.7 1013.7L994.7 1020.7L1006.7 1023.7L1019.6 1024.6L1039.4 1026.7L1074.7 1027.4L1095.9 1027.4L1131.2 1026.0L1166.6 1022.5L1190.0 1021.8L1239.3 1020.0L1298.6 1014.1L1343.1 1011.9L1387.0 1010.4" fill="none" stroke="#000" stroke-width="2.3" stroke-linejoin="round"/>
<path d="M272.0 995.2L292.8 999.8L309.7 1005.3L326.7 1006.6L352.1 1009.7L394.5 1012.8L436.9 1016.0L479.2 1022.4L510.0 1028.6L586.3 1030.5L662.6 1030.5L719.8 1031.5L740.0 1031.6L752.9 1029.8L765.7 1015.1L778.6 989.4L795.1 969.2L804.3 956.3L817.1 934.3L830.0 893.9L841.0 899.4L855.7 895.7L868.5 881.9L881.4 892.0L892.4 914.1L905.3 932.4L918.1 947.1L932.8 965.5L945.7 987.5L958.5 1007.7L971.4 1018.7L987.9 1026.1L1000.0 1027.9L1032.4 1028.1L1060.6 1026.0L1088.9 1022.5L1117.1 1019.7L1145.4 1016.8L1190.0 1014.7L1239.3 1013.4L1298.6 1008.9L1343.1 1006.0L1387.0 1002.2" fill="none" stroke="#f00" stroke-width="2.3" stroke-linejoin="round"/>
<path d="M233.50 1301.59V745.90" stroke="#3a3a3a" stroke-width="2.0" stroke-dasharray="2.6 4.23" stroke-dashoffset="-0.25"/>
<path d="M246.70 1301.59V745.90" stroke="#f24a4a" stroke-width="2.4" stroke-dasharray="16.4 3.7 2.2 4.9" stroke-dashoffset="-3.05"/>
<path d="M259.30 1301.59V745.90" stroke="#222" stroke-width="2.0"/>
<path d="M271.90 1301.59V745.90" stroke="#f66a6a" stroke-width="2.8"/>
<path d="M474.70 1301.59V745.90" stroke="#3a3a3a" stroke-width="2.0" stroke-dasharray="2.6 4.23" stroke-dashoffset="-0.25"/>
<path d="M487.40 1301.59V745.90" stroke="#f46a6a" stroke-width="2.1" stroke-dasharray="2.6 4.23" stroke-dashoffset="-0.25"/>
<path d="M500.10 1301.59V745.90" stroke="#2a2a2a" stroke-width="2.0" stroke-dasharray="16.5 10.8" stroke-dashoffset="-1.05"/>
<path d="M512.80 1301.59V745.90" stroke="#f66a6a" stroke-width="2.6" stroke-dasharray="16.5 10.8" stroke-dashoffset="-1.05"/>
<path d="M525.70 1301.59V745.90" stroke="#222" stroke-width="2.0"/>
<path d="M538.10 1301.59V745.90" stroke="#f66a6a" stroke-width="2.8"/>
<path d="M766.40 1301.59V745.90" stroke="#f03232" stroke-width="2.4"/>
<path d="M779.20 1301.59V745.90" stroke="#555" stroke-width="2.2"/>
<path d="M779.20 1301.59V745.90" stroke="#f66a6a" stroke-width="2.6" stroke-dasharray="16.5 10.8" stroke-dashoffset="-1.05"/>
<path d="M893.20 1301.59V745.90" stroke="#ec4c4c" stroke-width="2.1" stroke-dasharray="2.6 4.23" stroke-dashoffset="-0.25"/>
<path d="M905.90 1301.59V745.90" stroke="#f66a6a" stroke-width="2.8"/>
<path d="M918.70 1301.59V745.90" stroke="#222" stroke-width="2.0"/>
<path d="M1070.60 1301.59V745.90" stroke="#f03232" stroke-width="2.4"/>
<path d="M1083.30 1301.59V745.90" stroke="#5a5a5a" stroke-width="2.2" stroke-dasharray="16.5 10.8" stroke-dashoffset="-1.05"/>
<path d="M1096.40 1301.59V745.90" stroke="#222" stroke-width="2.0"/>
<path d="M1096.40 1301.59V745.90" stroke="#f03c3c" stroke-width="2.4" stroke-dasharray="16.5 10.8" stroke-dashoffset="-1.05"/>
<path d="M1108.60 1301.59V745.90" stroke="#ec4c4c" stroke-width="2.1" stroke-dasharray="2.6 4.23" stroke-dashoffset="-0.25"/>
</g>
<g class="f" font-size="37" font-weight="bold" fill="#000">
<text transform="translate(753.83 26.30) scale(0.953 1)" text-anchor="middle">Frontal IA</text>
<text transform="translate(753.83 730.30) scale(0.953 1)" text-anchor="middle">Frontal RCIA</text>
</g>
<g class="f" font-size="35.2" fill="#262626" text-anchor="middle">
<text transform="translate(47.4 320.7) rotate(-90)">Degree</text>
<text transform="translate(29.2 1023.7) rotate(-90)">Degree/sec</text>
<text transform="translate(753.83 1392.60) scale(0.988 1)">% Crossing Cycle</text>
</g>
<g class="f" font-size="34" fill="#000">
<text transform="translate(290.10 123.80) scale(0.97 1)">T1</text>
<text transform="translate(555.60 124.00) scale(0.97 1)">T2</text>
<text transform="translate(711.00 127.50) scale(0.97 1)">T3</text>
<text transform="translate(938.50 126.30) scale(0.97 1)">T4</text>
<text transform="translate(1128.50 126.30) scale(0.97 1)">T5</text>
<text transform="translate(281.60 826.60) scale(0.97 1)">T1</text>
<text transform="translate(554.20 827.80) scale(0.97 1)">T2</text>
<text transform="translate(714.70 826.60) scale(0.97 1)">T3</text>
<text transform="translate(938.10 826.70) scale(0.97 1)">T4</text>
<text transform="translate(1136.80 823.20) scale(0.97 1)">T5</text>
</g>
</svg></body></html>
